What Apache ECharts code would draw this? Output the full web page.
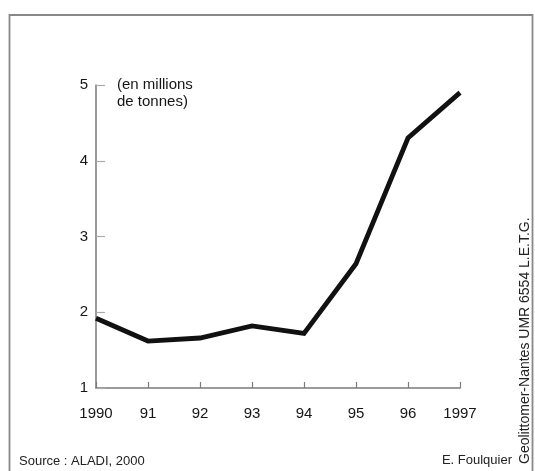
<!DOCTYPE html>
<html><head><meta charset="utf-8">
<script src="https://cdn.jsdelivr.net/npm/echarts@6/dist/echarts.min.js"></script>
<style>html,body{margin:0;padding:0;background:#fff}#c{width:535px;height:471px}</style>
</head><body><div id="c"></div>
<script>
var years = ['1990','91','92','93','94','95','96','1997'];
var tonnage = [1.92, 1.62, 1.66, 1.82, 1.72, 2.64, 4.30, 4.90];
var yTicks = [1, 2, 3, 4, 5];
var unitLabel = '(en millions\nde tonnes)';
var sourceLabel = 'Source : ALADI, 2000';
var authorLabel = 'E. Foulquier';
var creditLabel = 'Geolittomer-Nantes UMR 6554 L.E.T.G.';

var font = 'Liberation Sans, Arial, sans-serif';
var chart = echarts.init(document.getElementById('c'), null, {renderer: 'canvas'});
chart.setOption({
  animation: false,
  backgroundColor: '#fff',
  grid: {left: 96, right: 75, top: 85, bottom: 83},
  xAxis: {
    type: 'category', data: years, boundaryGap: false,
    axisLine: {lineStyle: {color: '#7a7a7a', width: 1.5}},
    axisTick: {inside: true, length: 6, lineStyle: {color: '#7a7a7a', width: 1.2}},
    axisLabel: {margin: 18, color: '#151515', fontSize: 15, fontFamily: font, showMinLabel: true, showMaxLabel: true, interval: 0},
    splitLine: {show: false}
  },
  yAxis: {
    type: 'value', min: yTicks[0], max: yTicks[yTicks.length - 1], interval: 1,
    axisLine: {show: true, lineStyle: {color: '#7a7a7a', width: 1.5}},
    axisTick: {show: true, inside: true, length: 9, lineStyle: {color: '#aaa', width: 1.2}},
    axisLabel: {margin: 8, color: '#151515', fontSize: 15, fontFamily: font},
    splitLine: {show: false}
  },
  series: [{
    type: 'line', data: tonnage, symbol: 'none',
    lineStyle: {color: '#111', width: 4.8, join: 'miter'}
  }],
  graphic: [
    {type: 'rect', shape: {x: 9.5, y: 15, width: 523, height: 462}, style: {fill: null, stroke: '#888', lineWidth: 1.8}, z: -1},
    {type: 'text', left: 117, top: 76, style: {text: unitLabel, font: '15px ' + font, fill: '#151515', lineHeight: 17}},
    {type: 'text', left: 19, top: 455, style: {text: sourceLabel, font: '13px ' + font, fill: '#222'}},
    {type: 'text', right: 23, top: 454, style: {text: authorLabel, font: '13px ' + font, fill: '#222'}},
    {type: 'text', x: 525, y: 464, rotation: Math.PI / 2, style: {text: creditLabel, font: '14px ' + font, fill: '#222', align: 'left', verticalAlign: 'middle'}}
  ]
});
</script></body></html>
